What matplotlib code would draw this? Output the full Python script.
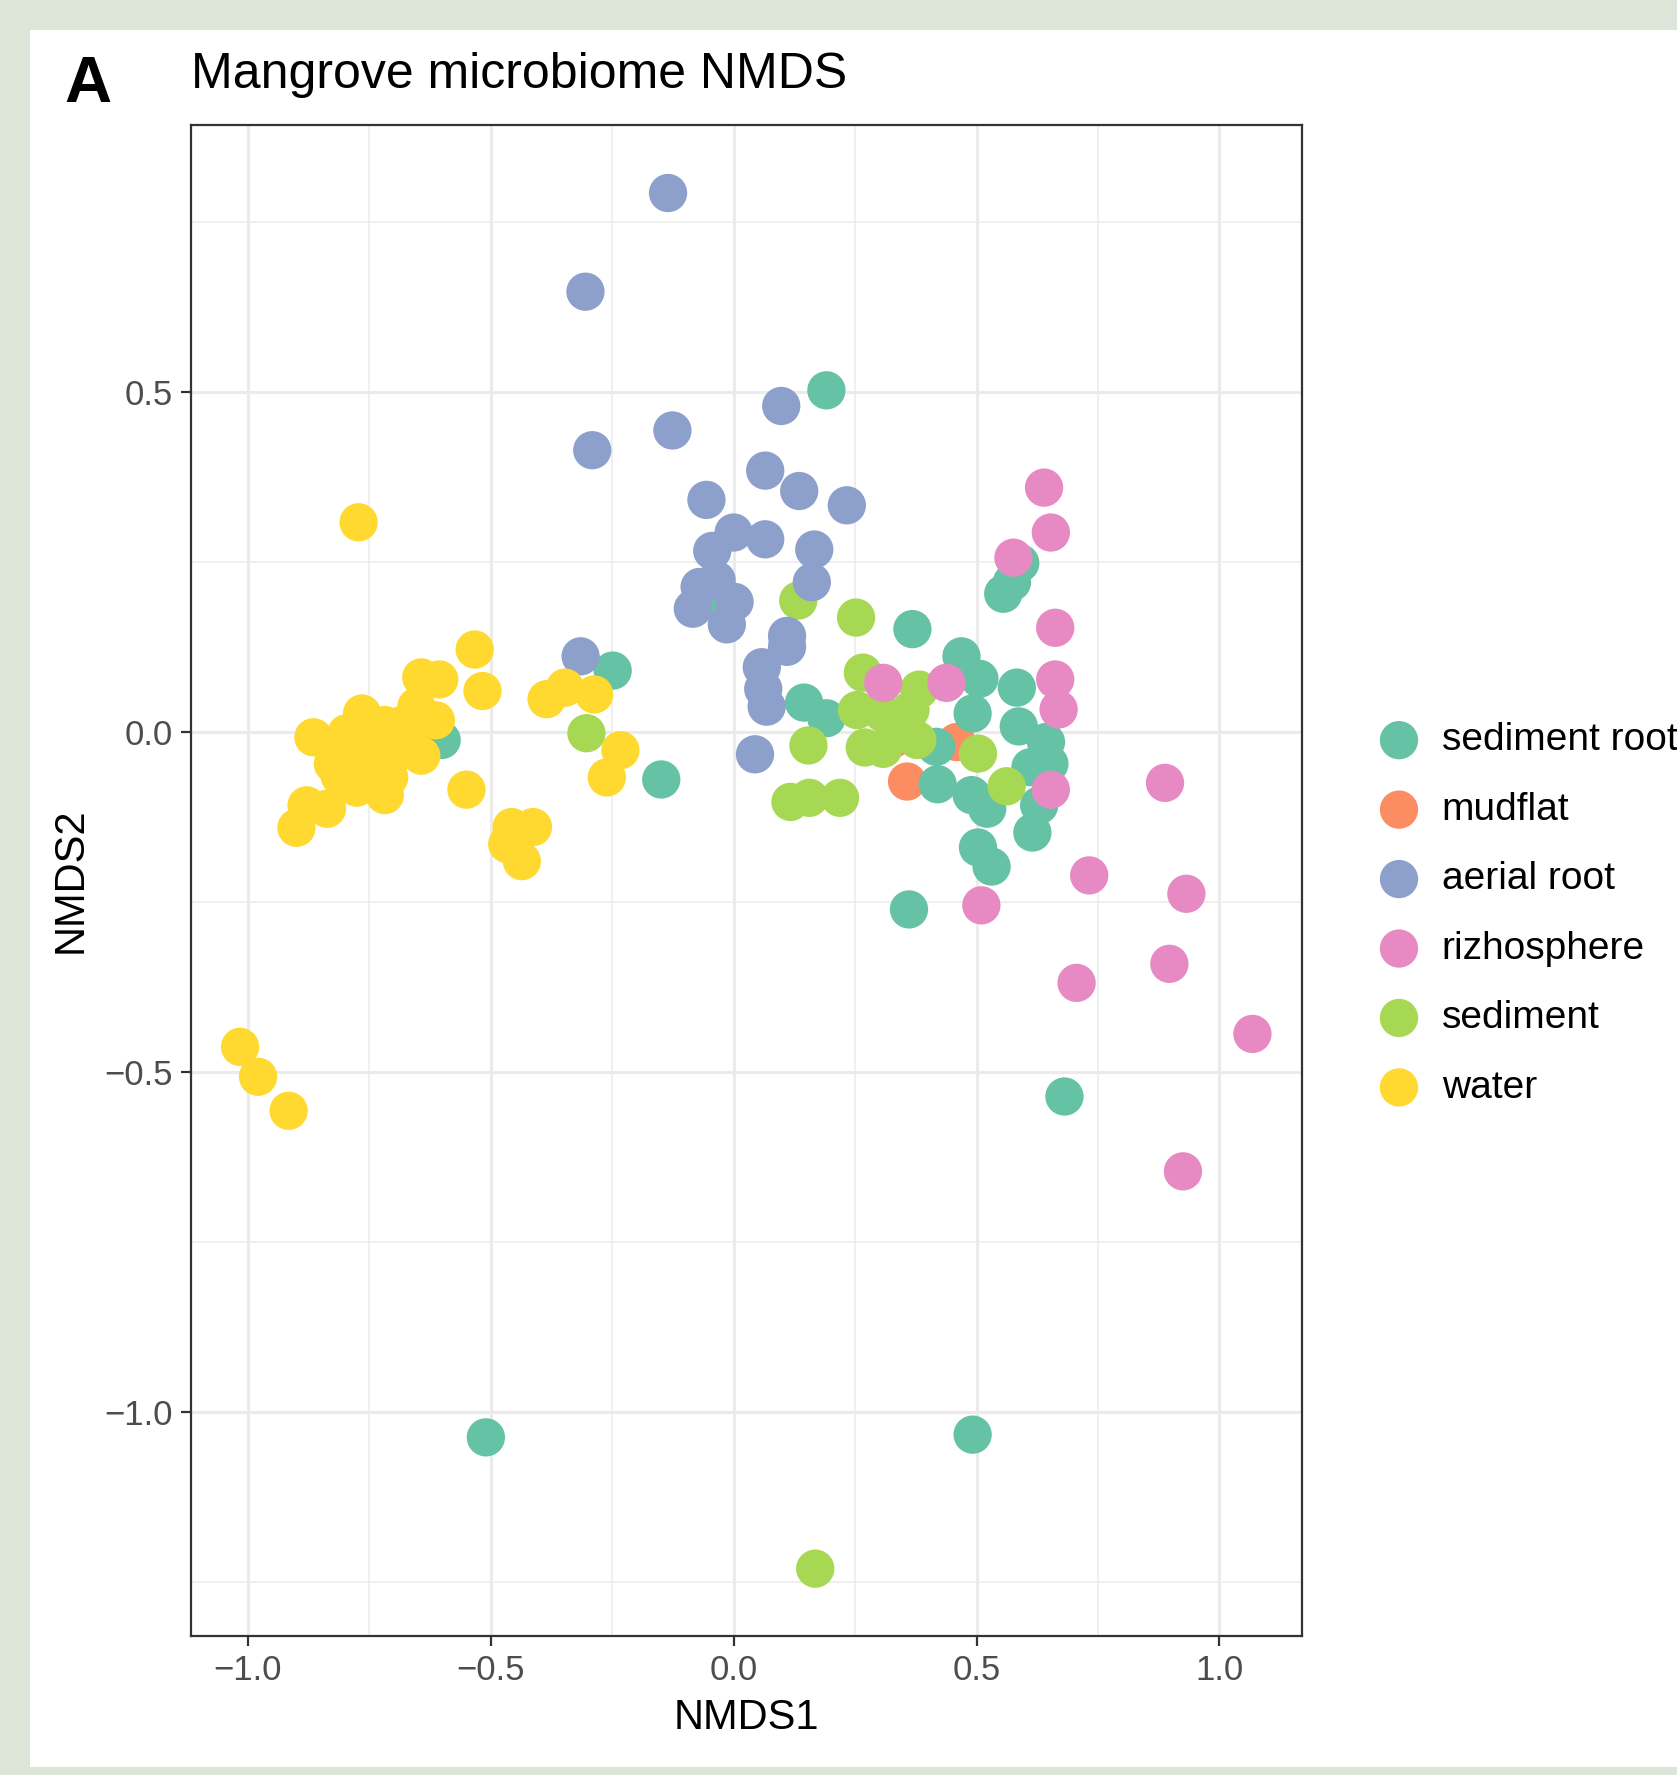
"""
Mangrove microbiome NMDS 散佈圖（依樣本來源著色）
"""

import matplotlib
matplotlib.use("Agg")
import matplotlib.pyplot as plt
from matplotlib.patches import Rectangle
from matplotlib.ticker import MultipleLocator, FixedLocator

plt.rcParams['font.family'] = ['Liberation Sans', 'DejaVu Sans']
plt.rcParams['axes.unicode_minus'] = True

# 各組 NMDS 座標
groups = ["sediment root", "mudflat", "aerial root", "rizhosphere", "sediment", "water"]
colors = ["#66C2A5", "#FC8D62", "#8DA0CB", "#E78AC3", "#A6D854", "#FFD92F"]

sediment_root_x = [0.191, 0.368, -0.249, -0.601, -0.149, 0.469, 0.506, 0.583, 0.492, 0.145,
                   0.191, 0.587, 0.590, 0.573, 0.555, 0.361, 0.681, -0.510, 0.492, -0.049,
                   0.643, 0.650, 0.611, 0.420, 0.490, 0.522, 0.629, 0.615, 0.503, 0.531,
                   0.417]
sediment_root_y = [0.502, 0.151, 0.090, -0.012, -0.070, 0.111, 0.078, 0.065, 0.027, 0.043,
                   0.020, 0.008, 0.248, 0.220, 0.203, -0.261, -0.536, -1.037, -1.033, 0.201,
                   -0.015, -0.047, -0.052, -0.077, -0.093, -0.113, -0.108, -0.148, -0.170, -0.198,
                   -0.022]

mudflat_x = [0.329, 0.357, 0.459]
mudflat_y = [-0.010, -0.073, -0.015]

aerial_root_x = [-0.135, -0.305, 0.098, -0.126, -0.291, 0.065, 0.135, -0.056, 0.233, 0.000,
                 0.065, -0.044, 0.166, 0.161, -0.035, -0.070, 0.002, -0.084, -0.014, 0.110,
                 0.110, -0.315, 0.058, 0.061, 0.068, 0.044]
aerial_root_y = [0.792, 0.647, 0.479, 0.443, 0.414, 0.384, 0.354, 0.341, 0.333, 0.293,
                 0.283, 0.266, 0.268, 0.220, 0.223, 0.213, 0.191, 0.181, 0.158, 0.141,
                 0.125, 0.111, 0.095, 0.063, 0.037, -0.033]

rizhosphere_x = [0.639, 0.653, 0.576, 0.662, 0.662, 0.669, 0.308, 0.438, 0.653, 0.888,
                 0.732, 0.510, 0.932, 0.897, 0.706, 1.068, 0.925]
rizhosphere_y = [0.359, 0.293, 0.256, 0.153, 0.077, 0.033, 0.072, 0.072, -0.085, -0.075,
                 -0.211, -0.255, -0.238, -0.341, -0.369, -0.444, -0.646]

sediment_x = [0.133, 0.252, 0.266, 0.382, 0.154, 0.254, 0.270, 0.308, 0.378, 0.364,
              0.503, 0.562, 0.117, 0.156, 0.219, -0.303, 0.168, 0.308, 0.331]
sediment_y = [0.193, 0.168, 0.087, 0.062, -0.020, 0.032, -0.023, -0.025, -0.012, 0.032,
              -0.032, -0.080, -0.103, -0.097, -0.097, -0.002, -1.230, 0.027, 0.010]

water_x = [-0.533, -0.517, -0.643, -0.606, -0.653, -0.613, -0.683, -0.765, -0.865, -0.797,
           -0.825, -0.643, -0.776, -0.718, -0.709, -0.879, -0.837, -0.900, -0.550, -0.385,
           -0.347, -0.287, -0.233, -0.261, -0.457, -0.413, -0.466, -0.436, -0.772, -1.016,
           -0.979, -0.916, -0.811, -0.765, -0.730, -0.706, -0.788, -0.741, -0.811, -0.695,
           -0.753, -0.718, -0.671]
water_y = [0.121, 0.060, 0.080, 0.077, 0.037, 0.017, 0.010, 0.027, -0.008, -0.002,
           -0.047, -0.035, -0.082, -0.093, -0.067, -0.108, -0.113, -0.141, -0.085, 0.048,
           0.065, 0.055, -0.027, -0.067, -0.140, -0.140, -0.165, -0.190, 0.308, -0.463,
           -0.507, -0.557, -0.023, -0.023, -0.015, -0.040, -0.057, -0.057, -0.065, -0.015,
           0.002, 0.010, -0.007]

data = {
    "sediment root": (sediment_root_x, sediment_root_y),
    "mudflat": (mudflat_x, mudflat_y),
    "aerial root": (aerial_root_x, aerial_root_y),
    "rizhosphere": (rizhosphere_x, rizhosphere_y),
    "sediment": (sediment_x, sediment_y),
    "water": (water_x, water_y),
}
draw_order = ["mudflat", "sediment root", "sediment", "aerial root", "rizhosphere", "water"]

W, H = 1677, 1775
fig = plt.figure(figsize=(W / 100, H / 100), dpi=100)
fig.patch.set_facecolor("#dbe6d9")
# 白色面板
fig.add_artist(Rectangle((30 / W, 1 - 1767 / H), 1, (1767 - 30) / H,
                         transform=fig.transFigure, facecolor="white", edgecolor="none", zorder=0))

ax = fig.add_axes([191 / W, 1 - 1636 / H, (1302 - 191) / W, (1636 - 125) / H])
ax.set_facecolor("white")

marker_s = 760
for g in draw_order:
    x, y = data[g]
    ax.scatter(x, y, s=marker_s, color=colors[groups.index(g)], edgecolors="none",
               zorder=3)

ax.set_xlim(-1.117, 1.170)
ax.set_ylim(-1.329, 0.892)

ax.xaxis.set_major_locator(FixedLocator([-1.0, -0.5, 0.0, 0.5, 1.0]))
ax.yaxis.set_major_locator(FixedLocator([-1.0, -0.5, 0.0, 0.5]))
ax.xaxis.set_minor_locator(MultipleLocator(0.25))
ax.yaxis.set_minor_locator(FixedLocator([-1.25, -0.75, -0.25, 0.25, 0.75]))
ax.set_xticklabels(["\u22121.0", "\u22120.5", "0.0", "0.5", "1.0"])
ax.set_yticklabels(["\u22121.0", "\u22120.5", "0.0", "0.5"])

ax.grid(which="major", color="#ebebeb", linewidth=2.2)
ax.grid(which="minor", color="#ebebeb", linewidth=1.1)
ax.set_axisbelow(True)

for sp in ax.spines.values():
    sp.set_color("#333333")
    sp.set_linewidth(1.6)

ax.tick_params(which="major", length=7.2, width=1.6, color="#333333",
               labelsize=25, labelcolor="#4d4d4d", pad=6)
ax.tick_params(which="minor", length=0)

ax.set_xlabel("NMDS1", fontsize=30, labelpad=8)
ax.set_ylabel("NMDS2", fontsize=30, labelpad=10)

fig.text(191 / W, 1 - 75 / H, "Mangrove microbiome NMDS", fontsize=36,
         ha="left", va="center")
fig.text(64 / W, 1 - 85 / H, "A", fontsize=47, fontweight="bold",
         ha="left", va="center")

handles = [plt.scatter([], [], s=marker_s, color=c, edgecolors="none") for c in colors]
leg = fig.legend(handles, groups, loc="center left",
                 bbox_to_anchor=(1364 / W, 1 - 914 / H), frameon=False,
                 fontsize=28, labelspacing=0.86, handletextpad=0.6,
                 borderaxespad=0, handlelength=1.0, scatterpoints=1)

fig.savefig("out.png", dpi=100, facecolor=fig.get_facecolor())
